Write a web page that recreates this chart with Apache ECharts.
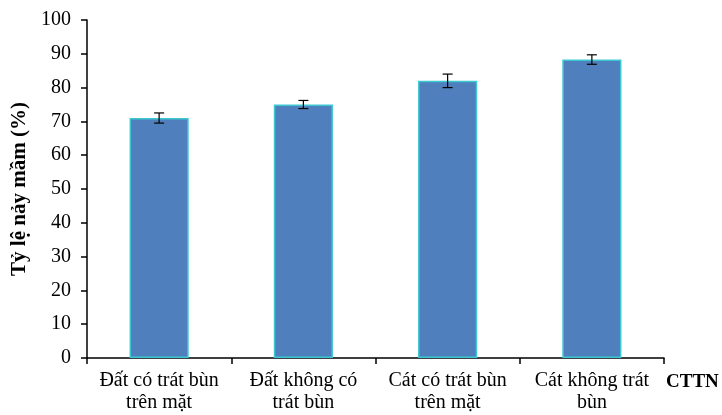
<!DOCTYPE html>
<html>
<head>
<meta charset="utf-8">
<script src="https://cdn.jsdelivr.net/npm/echarts@6/dist/echarts.min.js"></script>
<style>
  html, body { margin: 0; padding: 0; background: #fff; }
  #chart { width: 722px; height: 415px; }
</style>
</head>
<body>
<div id="chart"></div>
<script>
var categories = ['Đất có trát bùn\ntrên mặt', 'Đất không có\ntrát bùn', 'Cát có trát bùn\ntrên mặt', 'Cát không trát\nbùn'];
var rates = [71, 75, 82, 88.3];
var errors = [1.5, 1.2, 2.0, 1.4];
var yTicks = [0, 10, 20, 30, 40, 50, 60, 70, 80, 90, 100];

var myChart = echarts.init(document.getElementById('chart'));

var errData = []
for (var i = 0; i < rates.length; i++) {
  errData.push([i, rates[i] - errors[i], rates[i] + errors[i]])
}

var font = "'Liberation Serif', 'Times New Roman', serif"

var option = {
  animation: false,
  grid: { left: 87, right: 58, top: 20, bottom: 57, containLabel: false, outerBoundsMode: 'none' },
  xAxis: {
    type: 'category',
    data: categories,
    name: 'CTTN',
    nameLocation: 'end',
    nameGap: 2,
    nameTextStyle: {
      fontFamily: font, fontWeight: 'bold', fontSize: 19, color: '#000',
      verticalAlign: 'top', padding: [15, 0, 0, 0]
    },
    axisLine: { lineStyle: { color: '#000', width: 1.5 } },
    axisTick: { show: true, alignWithLabel: false, length: 6, lineStyle: { color: '#000', width: 1.5 } },
    axisLabel: {
      fontFamily: font, fontSize: 20, color: '#000', lineHeight: 22, margin: 12, interval: 0
    }
  },
  yAxis: {
    type: 'value',
    min: 0,
    max: 100,
    interval: 10,
    name: 'Tỷ lệ nảy mầm (%)',
    nameLocation: 'middle',
    nameGap: 55,
    nameRotate: 90,
    nameTextStyle: { fontFamily: font, fontWeight: 'bold', fontSize: 21, color: '#000' },
    axisLine: { show: true, lineStyle: { color: '#000', width: 1.5 } },
    axisTick: { show: true, length: 6, lineStyle: { color: '#000', width: 1.5 } },
    axisLabel: {
      fontFamily: font, fontSize: 20, color: '#000', margin: 16,
      formatter: function (v) { return yTicks.indexOf(v) >= 0 ? String(v) : '' }
    },
    splitLine: { show: false }
  },
  series: [{
    type: 'bar',
    data: rates,
    barWidth: '41%',
    itemStyle: {
      color: '#4f7fbd',
      borderColor: '#3cc8d0',
      borderWidth: 1.5
    }
  }, {
    type: 'custom',
    data: errData,
    z: 10,
    renderItem: function (params, api) {
      var x = api.value(0)
      var lo = api.coord([x, api.value(1)])
      var hi = api.coord([x, api.value(2)])
      var w = 5
      var style = { stroke: '#000', lineWidth: 1.2 }
      return {
        type: 'group',
        children: [
          { type: 'line', shape: { x1: hi[0], y1: hi[1], x2: lo[0], y2: lo[1] }, style: style },
          { type: 'line', shape: { x1: hi[0] - w, y1: hi[1], x2: hi[0] + w, y2: hi[1] }, style: style },
          { type: 'line', shape: { x1: lo[0] - w, y1: lo[1], x2: lo[0] + w, y2: lo[1] }, style: style }
        ]
      }
    }
  }]
};

myChart.setOption(option);
</script>
</body>
</html>
